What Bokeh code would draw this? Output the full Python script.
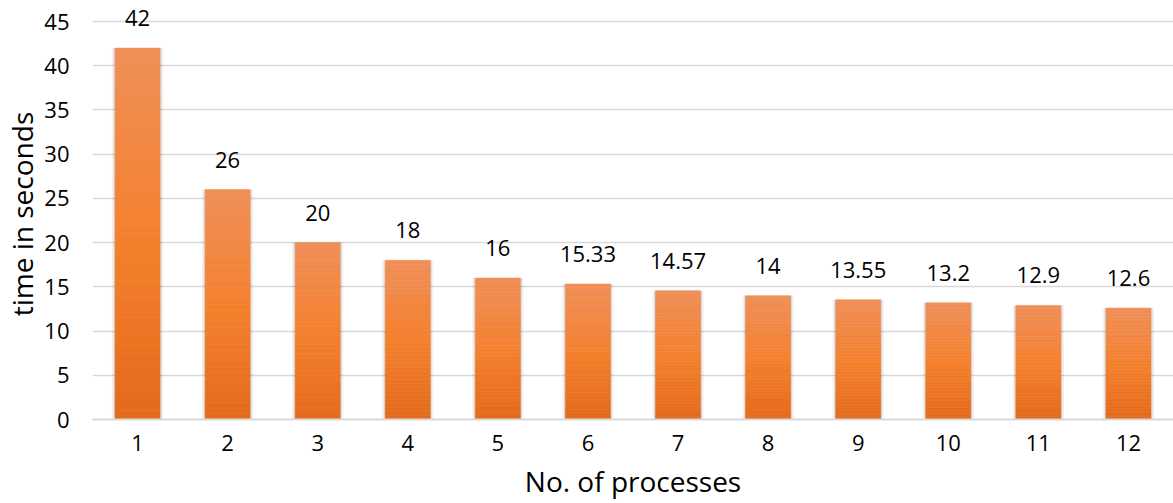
from bokeh.plotting import figure
from bokeh.models import ColumnDataSource, FactorRange, Range1d, LabelSet, FixedTicker
from bokeh.core.properties import value
from bokeh.embed import file_html
from bokeh.resources import INLINE

processes = ["1", "2", "3", "4", "5", "6", "7", "8", "9", "10", "11", "12"]
times = [42, 26, 20, 18, 16, 15.33, 14.57, 14, 13.55, 13.2, 12.9, 12.6]
labels = ["42", "26", "20", "18", "16", "15.33", "14.57", "14", "13.55", "13.2", "12.9", "12.6"]
y_ticks = [0, 5, 10, 15, 20, 25, 30, 35, 40, 45]

FONT = "Open Sans"

p = figure(x_range=FactorRange(*processes, range_padding=0),
           y_range=Range1d(0, 46.47),
           width=1173, height=503, output_backend="svg", toolbar_location=None,
           min_border_left=91, min_border_right=0, min_border_top=8, min_border_bottom=84)
p.outline_line_color = None

# gradient stops (bottom -> mid -> top)
stops = [(0.0, (228, 106, 26)), (0.5, (244, 129, 47)), (1.0, (240, 143, 88))]

def col(t):
    for (t0, c0), (t1, c1) in zip(stops[:-1], stops[1:]):
        if t <= t1:
            f = (t - t0) / (t1 - t0)
            return "#%02x%02x%02x" % tuple(int(round(a + (b - a) * f)) for a, b in zip(c0, c1))
    return "#%02x%02x%02x" % stops[-1][1]

# soft shadow
p.vbar(x=processes, top=times, width=0.57, fill_color="#000000", fill_alpha=0.05, line_color=None)
p.vbar(x=processes, top=times, width=0.535, fill_color="#000000", fill_alpha=0.09, line_color=None)

N = 40
xs, bots, tops, cols = [], [], [], []
for cat, v in zip(processes, times):
    for i in range(N):
        xs.append(cat)
        bots.append(v * i / N)
        tops.append(v * (i + 1) / N)
        cols.append(col((i + 0.5) / N))
src = ColumnDataSource(dict(x=xs, bottom=bots, top=tops, color=cols))
p.vbar(x="x", bottom="bottom", top="top", width=0.5, fill_color="color", line_color="color",
       line_width=0.5, source=src)

lab_src = ColumnDataSource(dict(x=processes, y=times, text=labels))
p.add_layout(LabelSet(x="x", y="y", text="text", source=lab_src, text_align="center",
                      text_baseline="alphabetic", y_offset=22, text_font=value(FONT),
                      text_font_size="22px", text_color="#000000"))

p.xgrid.grid_line_color = None
p.ygrid.grid_line_color = "#d9d9d9"
p.ygrid.grid_line_width = 1.5
p.yaxis.ticker = FixedTicker(ticks=y_ticks)

p.yaxis.axis_line_color = None
p.yaxis.major_tick_line_color = None
p.yaxis.minor_tick_line_color = None
p.xaxis.axis_line_color = "#d9d9d9"
p.xaxis.axis_line_width = 2
p.xaxis.major_tick_line_color = None
p.xaxis.minor_tick_line_color = None

for ax in (p.xaxis, p.yaxis):
    ax.major_label_text_font = FONT
    ax.major_label_text_font_size = "22px"
    ax.major_label_text_color = "#000000"
    ax.axis_label_text_font = FONT
    ax.axis_label_text_font_size = "28px"
    ax.axis_label_text_font_style = "normal"
    ax.axis_label_text_color = "#000000"

p.yaxis.axis_label = "time in seconds"
p.xaxis.axis_label = "No. of processes"
p.yaxis.major_label_standoff = 17
p.xaxis.major_label_standoff = 9
p.yaxis.axis_label_standoff = 0
p.xaxis.axis_label_standoff = 8

open("out.html", "w").write(file_html(p, INLINE))
